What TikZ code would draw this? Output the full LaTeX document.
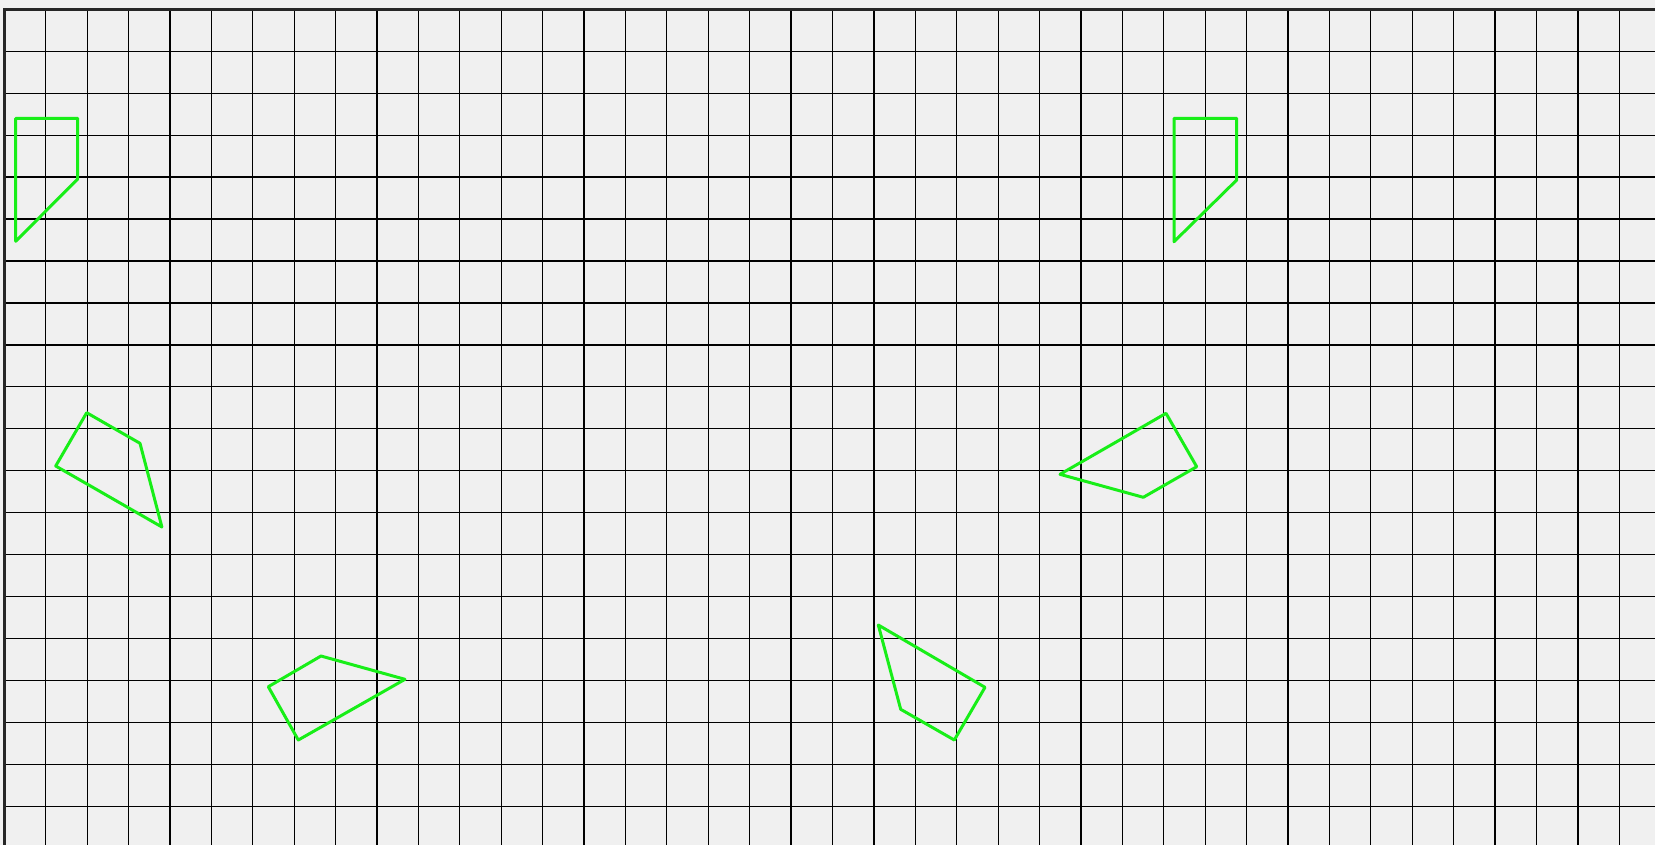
\documentclass[tikz,border=0pt]{standalone}
\usepackage{tikz}
\definecolor{canvasgray}{RGB}{240,240,240}
\definecolor{piecegreen}{RGB}{24,238,24}
\tikzset{piece/.style={line width=0.85pt, color=piecegreen, line join=round}}

\begin{document}
\begin{tikzpicture}[x=0.01cm, y=-0.01cm]
		%%%%% START %%%%%
		
		\fill[canvasgray] (0, 0) rectangle (1655, 845);
		\useasboundingbox (0, 0) rectangle (1655, 845);
		
		% grid
		\foreach \i in {0,...,39}
			\draw[line width=0.35pt] ({4.3+41.41*\i}, 9.3) -- ({4.3+41.41*\i}, 845);
		\foreach \j in {0,...,19}
			\draw[line width=0.35pt] (4.3, {9.3+41.95*\j}) -- (1655, {9.3+41.95*\j});
		\draw[line width=0.7pt, color=black!85] (1655, 9.3) -- (4.3, 9.3) -- (4.3, 845);
		
		% pieces
		\draw[piece] (15.7, 118.3) -- (77.7, 118.3) -- (77.7, 179) -- (15.7, 241.3) -- cycle;
		\draw[piece] (1174, 118.3) -- (1236.7, 118.3) -- (1236.7, 180) -- (1174, 241.7) -- cycle;
		
		\draw[piece] (86.7, 412.7) -- (140, 443.3) -- (161.9, 527) -- (55.7, 466) -- cycle;
		\draw[piece] (1166, 413.3) -- (1196.7, 466.7) -- (1143.3, 497.3) -- (1060, 474.3) -- cycle;
		
		\draw[piece] (321, 656) -- (405, 679.3) -- (298.3, 740) -- (268.3, 686.7) -- cycle;
		\draw[piece] (878.3, 625) -- (985, 687.3) -- (954.3, 740) -- (900.7, 709.3) -- cycle;
		
		%%%%% END %%%%%
	\end{tikzpicture}
\end{document}
